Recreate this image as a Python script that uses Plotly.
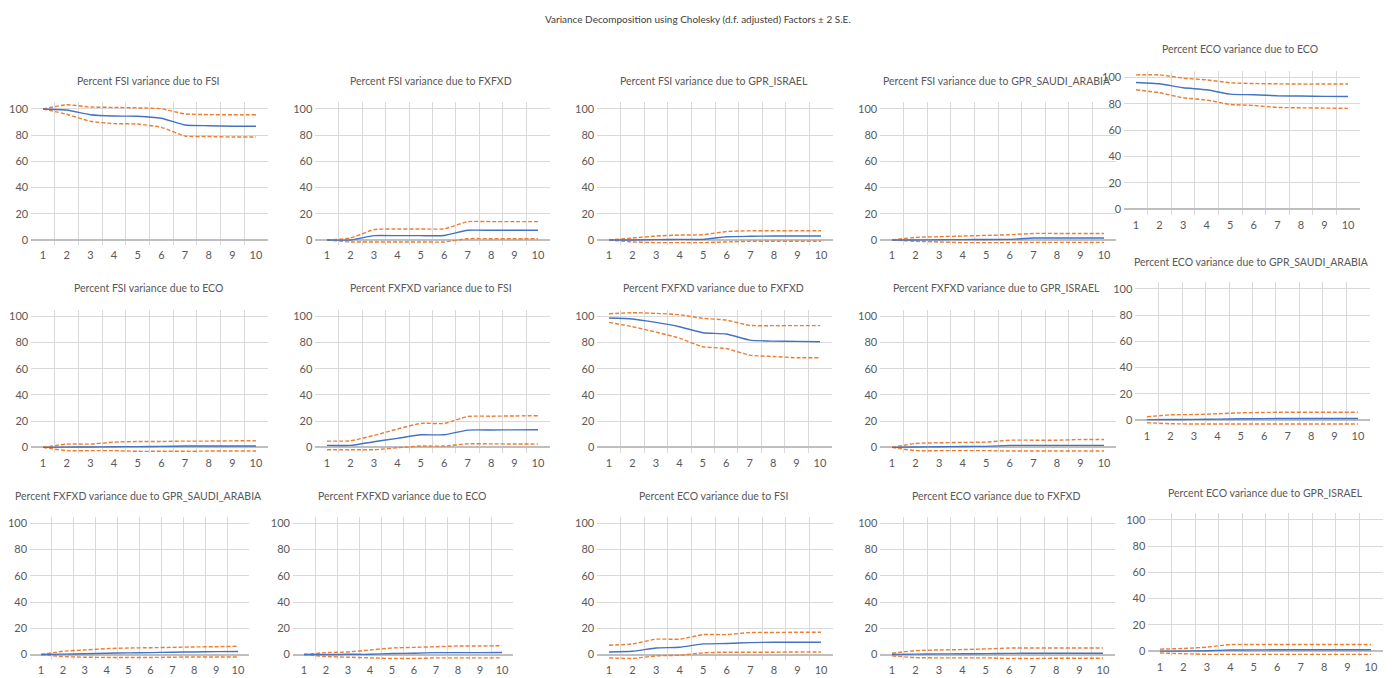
import plotly.graph_objects as go

W, H = 1395, 678

periods = [1, 2, 3, 4, 5, 6, 7, 8, 9, 10]
y_ticks = [0, 20, 40, 60, 80, 100]

main_title = "Variance Decomposition using Cholesky (d.f. adjusted) Factors ± 2 S.E."

titles = [
    "Percent FSI variance due to FSI",
    "Percent FSI variance due to FXFXD",
    "Percent FSI variance due to GPR_ISRAEL",
    "Percent FSI variance due to GPR_SAUDI_ARABIA",
    "Percent ECO variance due to ECO",
    "Percent FSI variance due to ECO",
    "Percent FXFXD variance due to FSI",
    "Percent FXFXD variance due to FXFXD",
    "Percent FXFXD variance due to GPR_ISRAEL",
    "Percent ECO variance due to GPR_SAUDI_ARABIA",
    "Percent FXFXD variance due to GPR_SAUDI_ARABIA",
    "Percent FXFXD variance due to ECO",
    "Percent ECO variance due to FSI",
    "Percent ECO variance due to FXFXD",
    "Percent ECO variance due to GPR_ISRAEL",
]

# point estimates (blue) and +/- 2 S.E. bands (orange dashed)
fsi_fsi = [100, 99.2, 95.6, 94.6, 94.5, 92.9, 87.8, 87.2, 86.8, 86.8]
fsi_fsi_hi = [100, 103.2, 101.5, 101.2, 100.8, 100.2, 96.2, 95.7, 95.6, 95.6]
fsi_fsi_lo = [100, 96.0, 90.6, 88.8, 88.5, 86.0, 79.4, 79.0, 78.6, 78.6]

fsi_fx = [0, 0, 3.3, 3.3, 3.3, 3.4, 7.4, 7.4, 7.4, 7.4]
fsi_fx_hi = [0, 1.5, 7.9, 8.4, 8.4, 8.5, 14.0, 14.0, 14.0, 14.0]
fsi_fx_lo = [0, -1.5, -1.5, -1.5, -1.5, -1.5, 1.0, 1.0, 1.0, 1.0]

fsi_isr = [0, 0, 0.3, 0.5, 0.5, 2.5, 2.8, 3.0, 3.0, 3.0]
fsi_isr_hi = [0, 1.5, 3.0, 3.8, 4.0, 6.5, 7.0, 7.0, 7.0, 7.0]
fsi_isr_lo = [0, -1.5, -2.0, -2.0, -2.0, -1.5, -1.0, -1.0, -1.0, -1.0]

fsi_sau = [0, 0, 0.2, 0.3, 0.4, 0.5, 1.5, 1.5, 1.5, 1.5]
fsi_sau_hi = [0, 2.0, 2.5, 3.0, 3.5, 4.0, 5.0, 5.0, 5.0, 5.0]
fsi_sau_lo = [0, -1.0, -1.5, -2.0, -2.0, -2.0, -1.8, -1.8, -1.8, -1.8]

eco_eco = [96.2, 95.2, 92.2, 90.7, 87.4, 86.9, 86.1, 85.9, 85.7, 85.6]
eco_eco_hi = [102.0, 102.0, 99.5, 98.2, 96.0, 95.4, 95.2, 95.0, 95.0, 95.0]
eco_eco_lo = [90.7, 88.4, 84.6, 82.9, 79.6, 78.8, 77.3, 77.0, 76.8, 76.6]

fsi_eco = [0, 0.2, 0.3, 0.5, 0.6, 0.8, 1.0, 1.0, 1.0, 1.0]
fsi_eco_hi = [0, 2.5, 2.5, 4.0, 4.5, 4.5, 4.8, 4.8, 5.0, 5.0]
fsi_eco_lo = [0, -2.5, -2.5, -2.5, -3.0, -3.0, -3.0, -2.8, -2.8, -2.8]

fx_fsi = [1.5, 1.5, 4.3, 6.9, 9.6, 9.6, 13.2, 13.3, 13.4, 13.5]
fx_fsi_hi = [4.8, 5.0, 9.1, 14.0, 18.3, 18.3, 23.6, 23.8, 24.0, 24.2]
fx_fsi_lo = [-1.8, -1.8, -1.8, -0.3, 1.0, 1.0, 2.7, 2.7, 2.6, 2.5]

fx_fx = [98.7, 98.0, 95.4, 92.1, 87.5, 86.5, 81.9, 81.1, 80.9, 80.6]
fx_fx_hi = [102.0, 102.8, 102.3, 101.3, 98.5, 97.2, 93.1, 92.9, 92.9, 92.9]
fx_fx_lo = [95.4, 92.1, 88.0, 83.4, 76.8, 75.5, 70.4, 69.4, 68.4, 68.4]

fx_isr = [0, 0.3, 0.5, 0.7, 0.8, 1.5, 1.5, 1.5, 1.5, 1.5]
fx_isr_hi = [0, 3.0, 3.5, 3.8, 4.0, 5.5, 5.5, 5.5, 6.0, 6.0]
fx_isr_lo = [0, -2.5, -2.5, -2.5, -2.5, -2.8, -2.8, -2.8, -2.8, -2.8]

eco_sau = [0.3, 0.4, 0.5, 0.7, 1.0, 1.1, 1.2, 1.2, 1.2, 1.2]
eco_sau_hi = [2.5, 4.0, 4.2, 4.8, 5.5, 5.8, 6.0, 6.0, 6.0, 6.0]
eco_sau_lo = [-2.0, -2.8, -3.0, -3.0, -3.0, -3.0, -3.0, -3.0, -3.0, -3.0]

fx_sau = [0, 0.3, 0.6, 1.0, 1.3, 1.5, 1.8, 2.0, 2.2, 2.3]
fx_sau_hi = [0, 2.5, 3.5, 4.5, 5.0, 5.2, 5.5, 5.8, 6.0, 6.3]
fx_sau_lo = [0, -1.5, -2.0, -2.2, -2.2, -2.2, -2.0, -1.8, -1.8, -1.8]

fx_eco = [0, 0, 0.2, 0.2, 0.8, 1.0, 1.5, 1.5, 1.5, 1.6]
fx_eco_hi = [0, 1.5, 2.0, 3.5, 5.0, 5.5, 6.0, 6.5, 6.5, 6.8]
fx_eco_lo = [0, -1.5, -2.0, -2.5, -3.0, -3.0, -2.5, -2.5, -2.5, -2.5]

eco_fsi = [2.0, 2.5, 5.0, 5.6, 8.1, 8.4, 9.1, 9.4, 9.4, 9.4]
eco_fsi_hi = [7.1, 8.1, 11.7, 11.7, 15.2, 15.2, 16.8, 16.8, 17.0, 17.0]
eco_fsi_lo = [-2.5, -3.0, -1.0, -0.5, 1.3, 1.8, 1.8, 1.8, 2.0, 2.0]

eco_fx = [0, 0.3, 0.5, 0.6, 0.7, 0.9, 1.0, 1.0, 1.0, 1.0]
eco_fx_hi = [1.0, 3.0, 3.5, 3.8, 4.3, 5.0, 5.0, 5.0, 5.0, 5.0]
eco_fx_lo = [-1.0, -2.3, -2.5, -2.5, -2.5, -3.0, -3.0, -2.8, -2.8, -2.8]

eco_isr = [0, 0, 0.3, 0.8, 0.9, 1.0, 1.0, 1.0, 1.0, 1.0]
eco_isr_hi = [1.5, 2.0, 3.0, 5.0, 5.0, 5.0, 5.0, 5.0, 5.0, 5.0]
eco_isr_lo = [-1.5, -2.0, -2.5, -2.5, -2.5, -2.5, -2.5, -2.5, -2.5, -2.5]

series = [
    (fsi_fsi, fsi_fsi_hi, fsi_fsi_lo),
    (fsi_fx, fsi_fx_hi, fsi_fx_lo),
    (fsi_isr, fsi_isr_hi, fsi_isr_lo),
    (fsi_sau, fsi_sau_hi, fsi_sau_lo),
    (eco_eco, eco_eco_hi, eco_eco_lo),
    (fsi_eco, fsi_eco_hi, fsi_eco_lo),
    (fx_fsi, fx_fsi_hi, fx_fsi_lo),
    (fx_fx, fx_fx_hi, fx_fx_lo),
    (fx_isr, fx_isr_hi, fx_isr_lo),
    (eco_sau, eco_sau_hi, eco_sau_lo),
    (fx_sau, fx_sau_hi, fx_sau_lo),
    (fx_eco, fx_eco_hi, fx_eco_lo),
    (eco_fsi, eco_fsi_hi, eco_fsi_lo),
    (eco_fx, eco_fx_hi, eco_fx_lo),
    (eco_isr, eco_isr_hi, eco_isr_lo),
]

# layout (pixel positions): x of tick "1", x of tick "10", y of 100, y of 0, title centre x, title y
panels = [
    (43, 256, 108.3, 239.7, 148, 80),
    (327, 538, 108.3, 239.7, 431, 80),
    (609, 821, 108.3, 239.7, 714, 80),
    (892, 1104, 108.3, 239.7, 997, 80),
    (1136, 1348, 76.7, 209.0, 1240, 48),
    (43, 256, 316.3, 447.7, 148, 288),
    (327, 538, 316.3, 447.7, 431, 288),
    (609, 820, 316.3, 447.7, 713, 288),
    (892, 1104, 316.3, 447.7, 996, 288),
    (1147, 1358, 288.7, 420.3, 1251, 262),
    (41, 238, 523.7, 655.5, 138, 496),
    (304, 502, 523.7, 655.5, 402, 496),
    (609, 821, 523.7, 655.5, 713, 496),
    (892, 1103, 523.7, 655.5, 996, 496),
    (1160, 1371, 520.5, 652.0, 1265, 493),
]

YLO, YHI = -4, 105
BLUE = "#4472C4"
ORANGE = "#ED7D31"
GRID = "#D9D9D9"
TXT = "#595959"
FONT = "Lato, sans-serif"

fig = go.Figure()
annotations = []
layout_axes = {}

for i, ((mean, hi, lo), (c1, c10, p100, p0, tx, ty)) in enumerate(zip(series, panels)):
    k = i + 1
    xa = "x" if k == 1 else f"x{k}"
    ya = "y" if k == 1 else f"y{k}"
    for vals, color, dash in ((hi, ORANGE, "4px,2px"), (lo, ORANGE, "4px,2px"), (mean, BLUE, "solid")):
        fig.add_trace(go.Scatter(
            x=periods, y=vals, mode="lines", xaxis=xa, yaxis=ya,
            line=dict(color=color, width=1.4, dash=dash, shape="spline", smoothing=0.5),
            hoverinfo="skip", showlegend=False,
        ))
    w = (c10 - c1) / 9.0
    left, right = c1 - w / 2, c10 + w / 2
    s = (p0 - p100) / 100.0
    top, bot = p100 - (YHI - 100) * s, p0 - YLO * s
    xname = "xaxis" if k == 1 else f"xaxis{k}"
    yname = "yaxis" if k == 1 else f"yaxis{k}"
    layout_axes[xname] = dict(
        domain=[left / W, right / W], anchor="free", position=1 - (p0 + 7.5) / H,
        range=[0.5, 10.5],
        tickvals=periods, ticktext=[str(p) for p in periods],
        showgrid=False, zeroline=False, showline=False, ticks="", ticklen=0,
        tickfont=dict(family=FONT, size=11, color=TXT), ticklabelstandoff=0,
        minor=dict(tickvals=[1.5, 2.5, 3.5, 4.5, 5.5, 6.5, 7.5, 8.5, 9.5],
                   showgrid=True, gridcolor=GRID, gridwidth=1, ticks=""),
        fixedrange=True,
    )
    layout_axes[yname] = dict(
        domain=[1 - bot / H, 1 - top / H], anchor=xa, range=[YLO, YHI],
        tickvals=y_ticks, showgrid=True, gridcolor=GRID, gridwidth=1,
        zeroline=True, zerolinecolor="#BFBFBF", zerolinewidth=1.5,
        showline=False, ticks="", ticklen=0,
        tickfont=dict(family=FONT, size=11, color=TXT), ticklabelstandoff=2,
        fixedrange=True,
    )
    annotations.append(dict(
        text=titles[i], x=tx / W, y=1 - ty / H, xref="paper", yref="paper",
        xanchor="center", yanchor="middle", showarrow=False,
        font=dict(family=FONT, size=10.5, color=TXT),
    ))

annotations.append(dict(
    text=main_title, x=698 / W, y=1 - 18 / H, xref="paper", yref="paper",
    xanchor="center", yanchor="middle", showarrow=False,
    font=dict(family=FONT, size=10, color="#404040"),
))

fig.update_layout(
    width=W, height=H, margin=dict(l=0, r=0, t=0, b=0),
    paper_bgcolor="white", plot_bgcolor="white", showlegend=False,
    annotations=annotations, **layout_axes,
)

fig.write_html("out.html", config={"displayModeBar": False},
               post_script="document.body.style.margin='0px';")
